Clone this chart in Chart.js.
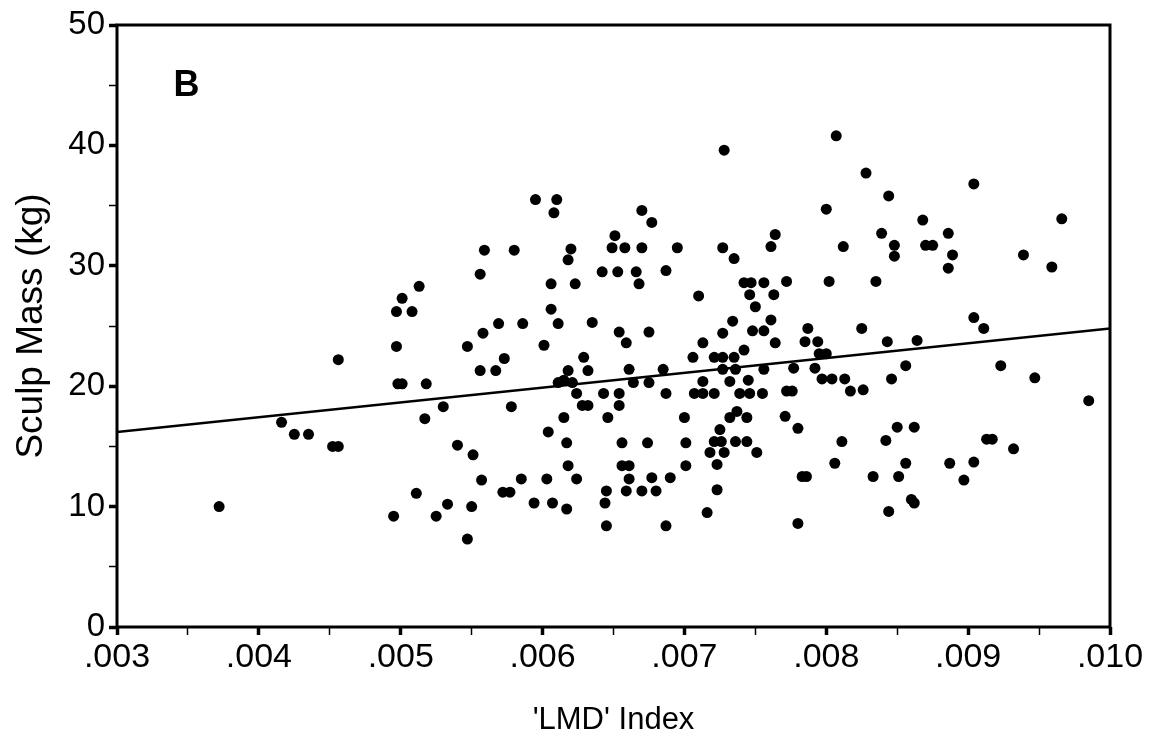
<!DOCTYPE html>
<html>
<head>
<meta charset="utf-8">
<script src="https://cdn.jsdelivr.net/npm/chart.js@4.4.1/dist/chart.umd.min.js"></script>
<style>
  html, body { margin: 0; padding: 0; background: #fff; }
  #wrap { width: 1161px; height: 743px; position: relative; }
</style>
</head>
<body>
<div id="wrap"><canvas id="chart"></canvas></div>
<script>
// 'LMD' index per animal
const lmdIndex = [
  0.00372,0.00416,0.00425,0.00435,0.00452,0.00456,0.00456,0.00495,0.00497,0.00497,
  0.00508,0.00501,0.00513,0.00498,0.00501,0.00518,0.00517,0.00530,0.00511,0.00525,
  0.00533,
  0.00728,0.00595,0.00610,0.00608,0.00670,0.00677,0.00651,0.00559,0.00580,0.00620,
  0.00618,0.00649,0.00658,0.00670,0.00695,0.00727,0.00735,0.00764,0.00761,0.00556,
  0.00606,0.00623,0.00642,0.00653,0.00666,0.00687,0.00668,0.00710,0.00742,0.00747,
  0.00756,0.00772,0.00746,0.00763,
  0.00606,0.00569,0.00586,0.00611,0.00635,0.00558,0.00654,0.00675,0.00734,0.00750,
  0.00761,0.00748,0.00756,0.00727,0.00547,0.00601,0.00659,0.00713,0.00764,0.00742,
  0.00573,0.00629,0.00706,0.00721,0.00727,0.00735,0.00556,0.00567,0.00618,0.00632,
  0.00661,0.00685,0.00727,0.00736,0.00756,0.00777,0.00615,0.00621,0.00611,0.00664,
  0.00675,0.00713,0.00732,0.00745,0.00624,0.00643,0.00654,0.00687,0.00707,0.00713,
  0.00721,0.00739,0.00746,0.00755,0.00772,0.00776,0.00628,0.00632,0.00654,0.00578,
  0.00615,0.00646,0.00700,0.00732,0.00737,0.00744,0.00771,0.00604,0.00725,0.00780,
  0.00540,0.00617,0.00656,0.00674,0.00701,0.00721,0.00726,0.00736,0.00744,0.00551,
  0.00718,0.00728,0.00751,0.00618,0.00656,0.00661,0.00701,0.00723,0.00557,0.00585,
  0.00603,0.00624,0.00661,0.00677,0.00690,0.00572,0.00577,0.00645,0.00659,0.00670,
  0.00680,0.00723,0.00550,0.00594,0.00607,0.00617,0.00644,0.00716,0.00780,0.00645,
  0.00687,0.00547,
  0.00807,0.00828,0.00904,0.00844,0.00800,0.00868,0.00966,0.00839,0.00886,0.00812,
  0.00848,0.00848,0.00870,0.00875,0.00889,0.00939,0.00886,0.00959,0.00802,0.00835,
  0.00904,0.00911,0.00787,0.00825,0.00785,0.00794,0.00843,0.00864,0.00795,0.00800,
  0.00792,0.00856,0.00923,0.00947,0.00797,0.00804,0.00813,0.00846,0.00817,0.00826,
  0.00985,0.00850,0.00862,0.00811,0.00842,0.00913,0.00917,0.00932,0.00806,0.00856,
  0.00887,0.00904,0.00897,0.00783,0.00786,0.00833,0.00851,0.00860,0.00862,0.00844
];

// sculp mass (kg), same order
const sculpMass = [
  10.0,17.0,16.0,16.0,15.0,15.0,22.2,9.2,23.3,26.2,
  26.2,27.3,28.3,20.2,20.2,20.2,17.3,18.3,11.1,9.2,
  10.2,
  39.6,35.5,35.5,34.4,34.6,33.6,32.5,31.3,31.3,31.4,
  30.5,31.5,31.5,31.5,31.5,31.5,30.6,32.6,31.6,29.3,
  28.5,28.5,29.5,29.5,29.5,29.6,28.5,27.5,28.6,28.6,
  28.6,28.7,27.6,27.6,
  26.4,25.2,25.2,25.2,25.3,24.4,24.5,24.5,25.4,26.6,
  25.5,24.6,24.6,24.4,23.3,23.4,23.6,23.6,23.6,23.0,
  22.3,22.4,22.4,22.4,22.4,22.4,21.3,21.3,21.3,21.3,
  21.4,21.4,21.4,21.4,21.4,21.5,20.5,20.3,20.3,20.3,
  20.3,20.4,20.4,20.5,19.4,19.4,19.4,19.4,19.4,19.4,
  19.4,19.4,19.4,19.4,19.6,19.6,18.4,18.4,18.4,18.3,
  17.4,17.4,17.4,17.4,17.9,17.4,17.5,16.2,16.4,16.5,
  15.1,15.3,15.3,15.3,15.3,15.4,15.4,15.4,15.4,14.3,
  14.5,14.5,14.5,13.4,13.4,13.4,13.4,13.5,12.2,12.3,
  12.3,12.3,12.3,12.4,12.4,11.2,11.2,11.3,11.3,11.3,
  11.3,11.4,10.0,10.3,10.3,9.8,10.3,9.5,8.6,8.4,
  8.4,7.3,
  40.8,37.7,36.8,35.8,34.7,33.8,33.9,32.7,32.7,31.6,
  31.7,30.8,31.7,31.7,30.9,30.9,29.8,29.9,28.7,28.7,
  25.7,24.8,24.8,24.8,23.7,23.7,23.7,23.8,22.7,22.7,
  21.5,21.7,21.7,20.7,20.6,20.6,20.6,20.6,19.6,19.7,
  18.8,16.6,16.6,15.4,15.5,15.6,15.6,14.8,13.6,13.6,
  13.6,13.7,12.2,12.5,12.5,12.5,12.5,10.6,10.3,9.6
];

// fitted regression line end points
const fitX = [0.003, 0.010];
const fitY = [16.2, 24.8];

const points = lmdIndex.map((x, i) => ({ x: x, y: sculpMass[i] }));
const fitLine = fitX.map((x, i) => ({ x: x, y: fitY[i] }));

const fontFamily = '"Liberation Sans", Arial, Helvetica, sans-serif';

// box round the plot and the panel letter
const framePlugin = {
  id: 'frame',
  afterDraw(chart) {
    const { ctx, chartArea } = chart;
    ctx.save();
    ctx.strokeStyle = '#000';
    ctx.lineWidth = 3;
    ctx.strokeRect(chartArea.left, chartArea.top, chartArea.right - chartArea.left, chartArea.bottom - chartArea.top);
    ctx.fillStyle = '#000';
    ctx.font = 'bold 36px ' + fontFamily;
    ctx.textAlign = 'center';
    ctx.textBaseline = 'middle';
    ctx.fillText('B', chart.scales.x.getPixelForValue(0.00349), chart.scales.y.getPixelForValue(44.9));
    ctx.restore();
  }
};

function isMajor(v, step) {
  const r = v / step;
  return Math.abs(r - Math.round(r)) < 1e-6;
}

new Chart(document.getElementById('chart'), {
  type: 'scatter',
  data: {
    datasets: [
      {
        data: points,
        backgroundColor: '#000',
        borderWidth: 0,
        pointRadius: 5.5,
        pointHoverRadius: 5.5
      },
      {
        type: 'line',
        data: fitLine,
        borderColor: '#000',
        borderWidth: 2.5,
        pointRadius: 0,
        fill: false
      }
    ]
  },
  options: {
    responsive: true,
    maintainAspectRatio: false,
    animation: false,
    layout: { padding: { top: 25, right: 51, left: 0, bottom: 0 } },
    plugins: { legend: { display: false }, tooltip: { enabled: false } },
    scales: {
      x: {
        type: 'linear',
        min: 0.003,
        max: 0.010,
        afterFit(scale) { scale.height = 116; },
        border: { display: false },
        grid: {
          drawOnChartArea: false,
          drawTicks: true,
          tickLength: 8,
          tickColor: '#000',
          tickWidth: ctx => isMajor(ctx.tick.value, 0.001) ? 3.5 : 1.5
        },
        ticks: {
          stepSize: 0.0005,
          autoSkip: false,
          maxRotation: 0,
          color: '#000',
          padding: 2,
          font: { family: fontFamily, size: 34 },
          callback: v => isMajor(v, 0.001) ? v.toFixed(3).replace(/^0/, '') : ''
        },
        title: {
          display: true,
          text: "'LMD' Index",
          color: '#000',
          font: { family: fontFamily, size: 31 },
          padding: { top: 0, bottom: 4 }
        }
      },
      y: {
        type: 'linear',
        min: 0,
        max: 50,
        afterFit(scale) { scale.width = 117; },
        border: { display: false },
        grid: {
          drawOnChartArea: false,
          drawTicks: true,
          tickLength: 8,
          tickColor: '#000',
          tickWidth: ctx => isMajor(ctx.tick.value, 10) ? 3.5 : 1.5
        },
        ticks: {
          stepSize: 5,
          autoSkip: false,
          color: '#000',
          padding: 4,
          font: { family: fontFamily, size: 33 },
          callback: v => isMajor(v, 10) ? String(v) : ''
        },
        title: {
          display: true,
          text: 'Sculp Mass (kg)',
          color: '#000',
          font: { family: fontFamily, size: 37 },
          padding: { top: 10, bottom: 0 }
        }
      }
    }
  },
  plugins: [framePlugin]
});
</script>
</body>
</html>
